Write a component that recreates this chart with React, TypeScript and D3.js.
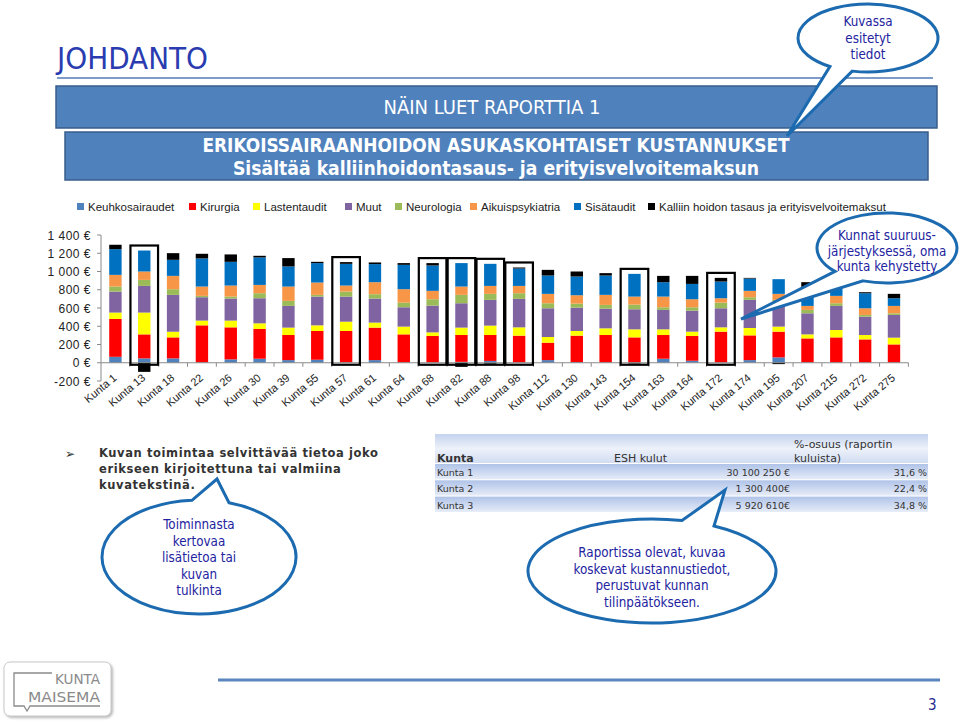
import React from 'react';
import * as d3 from 'd3';

const categories = ["Kunta 1","Kunta 13","Kunta 18","Kunta 22","Kunta 26","Kunta 30","Kunta 39","Kunta 55","Kunta 57","Kunta 61","Kunta 64","Kunta 68","Kunta 82","Kunta 88","Kunta 98","Kunta 112","Kunta 130","Kunta 143","Kunta 154","Kunta 163","Kunta 164","Kunta 172","Kunta 174","Kunta 195","Kunta 207","Kunta 215","Kunta 272","Kunta 275"];
const keuhkosairaudet = [65,48,48,5,37,44,29,33,3,29,3,3,10,20,3,29,8,5,3,44,22,3,29,59,5,3,3,3];
const kirurgia = [415,263,230,405,351,326,275,315,345,356,308,290,294,284,294,191,289,299,275,260,271,338,271,282,262,275,253,198];
const lastentaudit = [70,239,62,52,74,62,81,62,102,55,85,40,81,103,91,62,51,73,88,62,48,47,81,55,44,81,48,74];
const muut = [230,292,404,256,241,275,238,315,275,263,212,293,267,282,312,315,256,216,220,213,230,209,308,274,231,264,201,249];
const neurologia = [55,66,62,15,22,55,55,19,55,48,51,70,92,66,62,55,44,41,51,29,37,62,29,19,37,29,19,18];
const aikuispsykiatria = [128,92,146,102,121,91,157,135,66,132,147,92,91,87,80,103,92,110,88,117,88,48,70,66,44,81,73,81];
const sisataudit = [282,230,176,308,260,301,220,213,238,198,267,278,257,242,191,201,205,212,249,158,168,183,135,161,176,109,165,84];
const kalliinHoidon = [48,-100,73,51,81,18,92,14,19,18,19,26,-45,-10,11,62,55,26,-8,69,88,40,7,-15,84,48,11,48];

const seriesNames = ["Keuhkosairaudet","Kirurgia","Lastentaudit","Muut","Neurologia","Aikuispsykiatria","Sisätaudit","Kalliin hoidon tasaus ja erityisvelvoitemaksut"];
const framedKunnat = ["Kunta 13","Kunta 57","Kunta 68","Kunta 82","Kunta 88","Kunta 98","Kunta 154","Kunta 172"];
const yTicks = [-200,0,200,400,600,800,1000,1200,1400];

const tableKunnat = ["Kunta 1","Kunta 2","Kunta 3"];
const tableKulut = ["30 100 250 €","1 300 400€","5 920 610€"];
const tableOsuus = ["31,6 %","22,4 %","34,8 %"];

const bulletLines = ["Kuvan toimintaa selvittävää tietoa joko","erikseen kirjoitettuna tai valmiina","kuvatekstinä."];
const bubble1Lines = ["Kuvassa","esitetyt","tiedot"];
const bubble2Lines = ["Kunnat suuruus-","järjestyksessä, oma","kunta kehystetty"];
const bubble3Lines = ["Toiminnasta","kertovaa","lisätietoa tai","kuvan","tulkinta"];
const bubble4Lines = ["Raportissa olevat, kuvaa","koskevat kustannustiedot,","perustuvat kunnan","tilinpäätökseen."];

const COLORS = ["#4f81bd","#ff0000","#ffff00","#8064a2","#9bbb59","#f79646","#0070c0","#000000"];
const LEGEND_X = [77,189,253,345,395,470,574,648];

const seriesValues = [keuhkosairaudet,kirurgia,lastentaudit,muut,neurologia,aikuispsykiatria,sisataudit,kalliinHoidon];
const keys = seriesValues.map((_, j) => 's' + j);

const fmtEuro = (v: number) => {
  const s = Math.abs(v).toString().replace(/\B(?=(\d{3})+(?!\d))/g, ' ');
  return (v < 0 ? '-' : '') + s + ' €';
};

function bubblePath(cx: number, cy: number, rx: number, ry: number, a: number, b: number, tx: number, ty: number) {
  const p = (t: number) => [cx + rx * Math.cos(t * Math.PI / 180), cy + ry * Math.sin(t * Math.PI / 180)];
  const [bx, by] = p(b);
  const [ax, ay] = p(a);
  return `M${bx},${by} A${rx},${ry} 0 1 1 ${ax},${ay} L${tx},${ty} Z`;
}

const BUBBLE_STROKE = '#1c6bb0';
const BUBBLE_TEXT = '#2323a0';
const CALLOUT_FONT = '"DejaVu Sans Condensed", "DejaVu Sans", sans-serif';

function Bubble({ cx, cy, rx, ry, a, b, tx, ty, lines, textY, lineH }: any) {
  return (
    <g>
      <path d={bubblePath(cx, cy, rx, ry, a, b, tx, ty)} fill="#fff" stroke={BUBBLE_STROKE} strokeWidth={3} strokeLinejoin="miter" />
      {lines.map((l: string, i: number) => (
        <text key={i} x={cx} y={textY + i * lineH} textAnchor="middle" fontFamily={CALLOUT_FONT} fontSize={13.3} fill={BUBBLE_TEXT} style={{ fontStretch: 'condensed' }}>{l}</text>
      ))}
    </g>
  );
}

export default function App() {
  const rows = categories.map((c, i) => {
    const o: any = { cat: c };
    seriesValues.forEach((arr, j) => { o['s' + j] = arr[i]; });
    return o;
  });
  const stacked = d3.stack<any>().keys(keys).offset(d3.stackOffsetDiverging)(rows);

  const x = d3.scaleBand<string>().domain(categories).range([101, 908.4]).paddingInner(0.57).paddingOuter(0.285);
  const y = d3.scaleLinear().domain([-200, 1400]).range([381, 235]);
  const step = x.step();

  const axisColor = '#8a8a8a';
  const chartFont = '"Liberation Sans", Arial, sans-serif';

  return (
    <svg width={960} height={723} style={{ position: 'absolute', left: 0, top: 0, background: '#fff' }}>
      <defs>
        <linearGradient id="hdrGrad" x1="0" y1="0" x2="0" y2="1">
          <stop offset="0" stopColor="#c4d3ee" />
          <stop offset="0.5" stopColor="#edf1f9" />
          <stop offset="1" stopColor="#d2ddf2" />
        </linearGradient>
        <linearGradient id="rowGrad" x1="0" y1="0" x2="0" y2="1">
          <stop offset="0" stopColor="#b0c3e8" />
          <stop offset="1" stopColor="#e6ecf8" />
        </linearGradient>
        <filter id="shadow" x="-10%" y="-10%" width="130%" height="140%">
          <feDropShadow dx="1.5" dy="1.5" stdDeviation="1.2" floodColor="#888" floodOpacity="0.6" />
        </filter>
      </defs>

      {/* Title */}
      <text x={57} y={69} fontFamily={CALLOUT_FONT} fontSize={31} fill="#2a3cb0" style={{ fontStretch: 'condensed' }}>JOHDANTO</text>
      <line x1={57} x2={933} y1={78} y2={78} stroke="#7d9dc8" strokeWidth={2} />

      {/* Header boxes */}
      <rect x={56} y={86} width={881} height={42} fill="#4f81bd" stroke="#385d8a" strokeWidth={1.5} />
      <text x={492} y={114} textAnchor="middle" fontFamily={CALLOUT_FONT} fontSize={20} fill="#fff" style={{ fontStretch: 'condensed' }}>NÄIN LUET RAPORTTIA 1</text>
      <rect x={65} y={132} width={863} height={48} fill="#4f81bd" stroke="#385d8a" strokeWidth={1.5} />
      <text x={496} y={152} textAnchor="middle" fontFamily={CALLOUT_FONT} fontWeight="bold" fontSize={18.9} fill="#fff" style={{ fontStretch: 'condensed' }}>ERIKOISSAIRAANHOIDON ASUKASKOHTAISET KUSTANNUKSET</text>
      <text x={496} y={175} textAnchor="middle" fontFamily={CALLOUT_FONT} fontWeight="bold" fontSize={19.2} fill="#fff" style={{ fontStretch: 'condensed' }}>Sisältää kalliinhoidontasaus- ja erityisvelvoitemaksun</text>

      {/* Legend */}
      {seriesNames.map((n, j) => (
        <g key={n}>
          <rect x={LEGEND_X[j]} y={203} width={7} height={7} fill={COLORS[j]} />
          <text x={LEGEND_X[j] + 11} y={211} fontFamily={chartFont} fontSize={11.5} fill="#222">{n}</text>
        </g>
      ))}

      {/* Y axis */}
      <line x1={101} x2={101} y1={y(1400)} y2={y(-200)} stroke={axisColor} strokeWidth={1} />
      {yTicks.map(t => (
        <g key={t}>
          <line x1={97} x2={101} y1={y(t)} y2={y(t)} stroke={axisColor} />
          <text x={91} y={y(t) + 4.5} textAnchor="end" fontFamily={chartFont} fontSize={12} letterSpacing={0.5} fill="#222">{fmtEuro(t)}</text>
        </g>
      ))}

      {/* Bars */}
      {stacked.map((layer, j) => (
        <g key={layer.key} fill={COLORS[j]}>
          {layer.map((d: any, i: number) => {
            const y0 = y(d[0]);
            const y1 = y(d[1]);
            const h = Math.abs(y0 - y1);
            if (h <= 0) return null;
            return <rect key={i} x={x(d.data.cat)} y={Math.min(y0, y1)} width={x.bandwidth()} height={h} />;
          })}
        </g>
      ))}

      {/* X axis */}
      <line x1={101} x2={908.4} y1={y(0)} y2={y(0)} stroke={axisColor} strokeWidth={1} />
      {categories.map((c, i) => (
        <line key={'t' + i} x1={101 + (i + 1) * step} x2={101 + (i + 1) * step} y1={y(0)} y2={y(0) + 4} stroke={axisColor} />
      ))}
      {categories.map(c => {
        const cx = (x(c) as number) + x.bandwidth() / 2;
        return (
          <text key={'l' + c} transform={`translate(${cx + 2},${379}) rotate(-40)`} textAnchor="end" fontFamily={chartFont} fontSize={11} fill="#222">{c}</text>
        );
      })}

      {/* Frames around own municipalities */}
      {framedKunnat.map(c => {
        const i = categories.indexOf(c);
        const total = seriesValues.reduce((s, arr) => s + Math.max(0, arr[i]), 0);
        const cx = (x(c) as number) + x.bandwidth() / 2;
        const top = y(total) - 5;
        const bottom = y(0) + 2;
        return <rect key={'f' + c} x={cx - 13.8} y={top} width={27.6} height={bottom - top} fill="none" stroke="#000" strokeWidth={2.2} />;
      })}

      {/* Bullet text */}
      <text x={65} y={458} fontFamily="DejaVu Sans, sans-serif" fontSize={12} fill="#333">➢</text>
      {bulletLines.map((l, i) => (
        <text key={i} x={99} y={457 + i * 16} fontFamily="DejaVu Sans, sans-serif" fontWeight="bold" fontSize={11.5} letterSpacing={0.6} fill="#333">{l}</text>
      ))}

      {/* Table */}
      <rect x={435} y={434} width={493} height={29} fill="url(#hdrGrad)" />
      {tableKunnat.map((k, i) => (
        <rect key={k} x={435} y={464 + i * 16.3} width={493} height={15.3} fill="url(#rowGrad)" />
      ))}
      <text x={437} y={462} fontFamily="DejaVu Sans, sans-serif" fontWeight="bold" fontSize={11} fill="#333">Kunta</text>
      <text x={614} y={462} fontFamily="DejaVu Sans, sans-serif" fontSize={11} fill="#333">ESH kulut</text>
      <text x={794} y={448} fontFamily="DejaVu Sans, sans-serif" fontSize={11} fill="#333">%-osuus (raportin</text>
      <text x={794} y={462} fontFamily="DejaVu Sans, sans-serif" fontSize={11} fill="#333">kuluista)</text>
      {tableKunnat.map((k, i) => (
        <g key={'r' + k} fontFamily="DejaVu Sans, sans-serif" fontSize={9.5} fill="#333">
          <text x={437} y={476 + i * 16.3}>{k}</text>
          <text x={790} y={476 + i * 16.3} textAnchor="end">{tableKulut[i]}</text>
          <text x={927} y={476 + i * 16.3} textAnchor="end">{tableOsuus[i]}</text>
        </g>
      ))}

      {/* Callout bubbles */}
      <Bubble cx={868} cy={38} rx={70} ry={34} a={103} b={123} tx={787} ty={136} lines={bubble1Lines} textY={26} lineH={16.5} />
      <Bubble cx={887} cy={248} rx={70} ry={35} a={110} b={138} tx={741} ty={319} lines={bubble2Lines} textY={240} lineH={15.5} />
      <Bubble cx={199} cy={557} rx={97} ry={57} a={266} b={288} tx={217} ty={479} lines={bubble3Lines} textY={529} lineH={16.6} />
      <Bubble cx={652} cy={571} rx={124} ry={52} a={284} b={300} tx={725} ty={490} lines={bubble4Lines} textY={557} lineH={16.6} />

      {/* Footer */}
      <g filter="url(#shadow)">
        <rect x={4} y={662} width={107} height={54} rx={6} fill="#fff" stroke="#c8c8c8" strokeWidth={1} />
      </g>
      <path d="M52,673 L14,673 L14,706 L24,706 L27,711 L30,706 L100,706" fill="none" stroke="#8a8a8a" strokeWidth={1.3} />
      <text x={55} y={684} fontFamily={CALLOUT_FONT} fontSize={14} fill="#8a8a8a" textLength={45} lengthAdjust="spacingAndGlyphs">KUNTA</text>
      <text x={28} y={702} fontFamily={CALLOUT_FONT} fontSize={14} fill="#8a8a8a" textLength={72} lengthAdjust="spacingAndGlyphs">MAISEMA</text>
      <line x1={218} x2={940} y1={680} y2={680} stroke="#5a86bd" strokeWidth={3} />
      <text x={928} y={710} fontFamily={CALLOUT_FONT} fontSize={15} fill="#1f2b8f">3</text>
    </svg>
  );
}
